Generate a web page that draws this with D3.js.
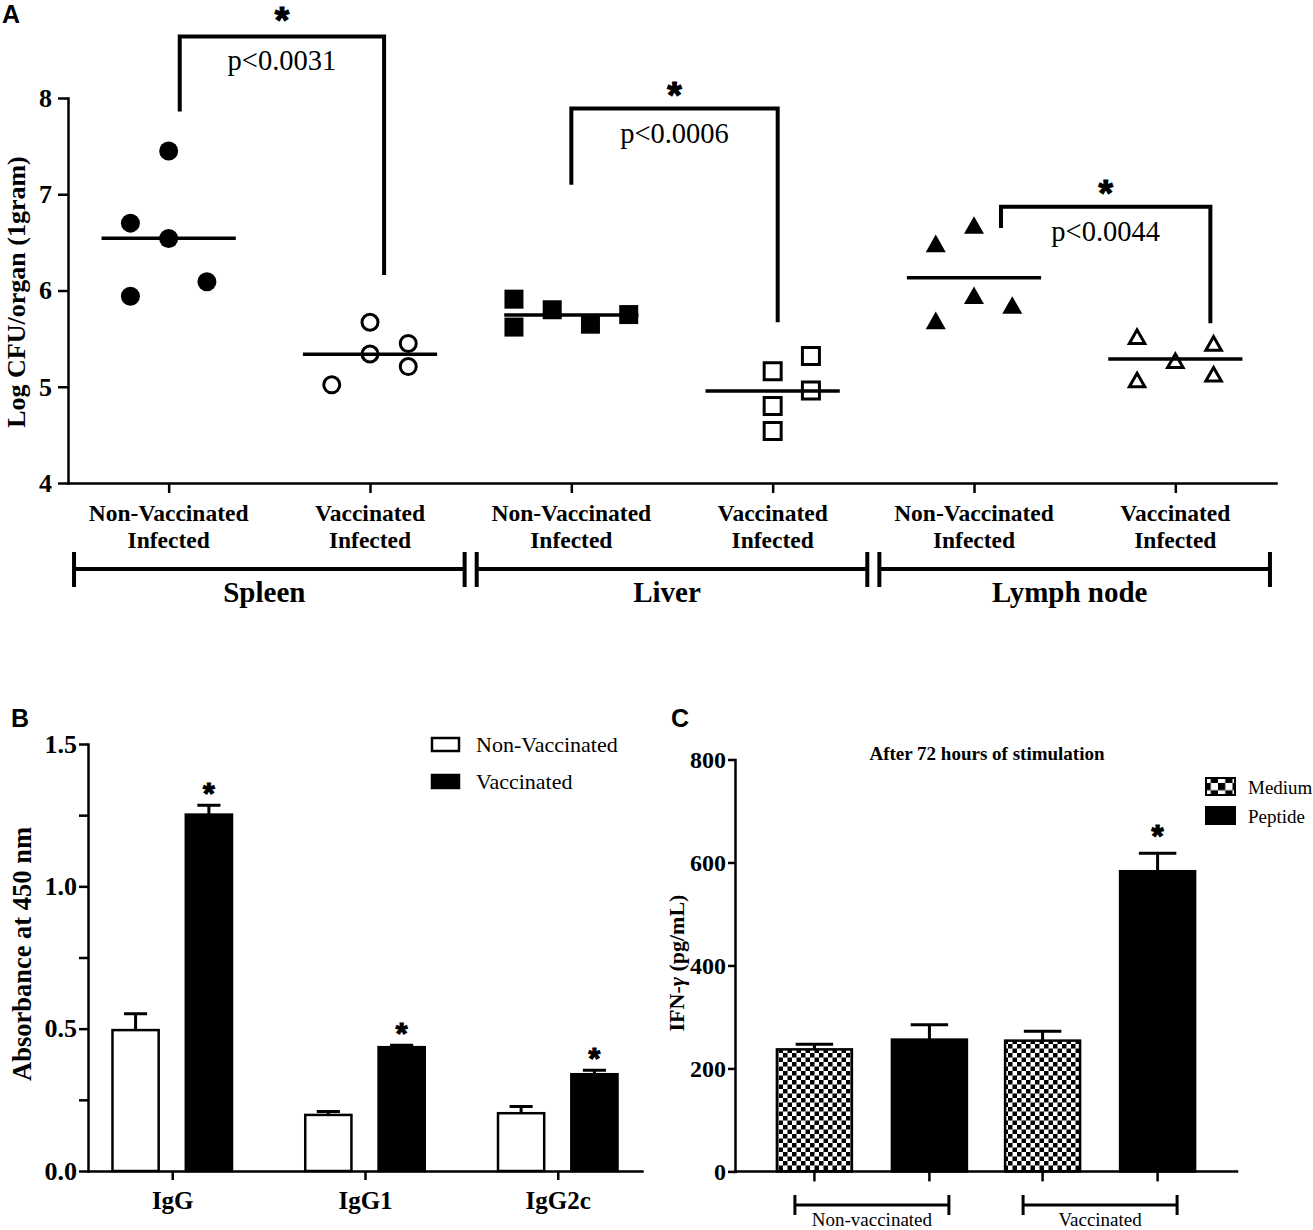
<!DOCTYPE html>
<html>
<head>
<meta charset="utf-8">
<script src="https://cdn.jsdelivr.net/npm/d3@7"></script>
<style>
  body { margin: 0; background: #fff; }
  svg { display: block; }
</style>
</head>
<body>
<div id="chart"></div>
<script>
// ---------- Panel A: log CFU per organ ----------
const organs = ["Spleen", "Liver", "Lymph node"];
const groupsA = ["spleenNV", "spleenV", "liverNV", "liverV", "lymphNV", "lymphV"];
const groupLabelsA = [
  ["Non-Vaccinated", "Infected"], ["Vaccinated", "Infected"],
  ["Non-Vaccinated", "Infected"], ["Vaccinated", "Infected"],
  ["Non-Vaccinated", "Infected"], ["Vaccinated", "Infected"]
];
const spleenNV = [7.45, 6.70, 6.54, 6.09, 5.94];
const spleenV  = [5.67, 5.34, 5.45, 5.21, 5.02];
const liverNV  = [5.91, 5.62, 5.80, 5.65, 5.75];
const liverV   = [5.16, 5.32, 4.96, 4.80, 4.54];
const lymphNV  = [6.68, 6.49, 5.95, 5.85, 5.69];
const lymphV   = [5.52, 5.45, 5.27, 5.07, 5.13];
// scatter column of each point (GraphPad spreads close values sideways)
const spleenNVSlot = [0, -1, 0, 1, -1];
const spleenVSlot  = [0, 0, 1, 1, -1];
const liverNVSlot  = [-1.5, -1.5, -0.5, 0.5, 1.5];
const liverVSlot   = [0, 1, 1, 0, 0];
const lymphNVSlot  = [0, -1, 0, 1, -1];
const lymphVSlot   = [-1, 1, 0, -1, 1];
const ticksA = [4, 5, 6, 7, 8];
const pLabels = ["p<0.0031", "p<0.0006", "p<0.0044"];
const bracketTop = [8.64, 7.89, 6.87];
const bracketLeftEnd = [7.86, 7.10, 6.65];
const bracketRightEnd = [6.16, 5.67, 5.66];

// ---------- Panel B: antibody ELISA ----------
const antibodies = ["IgG", "IgG1", "IgG2c"];
const absSeries = ["Non-Vaccinated", "Vaccinated"];
const absNonVac = [0.495, 0.197, 0.203];
const absNonVacErr = [0.057, 0.012, 0.024];
const absVac = [1.252, 0.435, 0.340];
const absVacErr = [0.033, 0.007, 0.014];
const ticksB = [0, 0.25, 0.5, 0.75, 1, 1.25, 1.5];

// ---------- Panel C: IFN-gamma ----------
const stimGroups = ["Non-vaccinated", "Vaccinated"];
const stimConditions = ["Medium", "Peptide"];
const ifnMedium = [237, 254];
const ifnMediumErr = [10, 18];
const ifnPeptide = [256, 583];
const ifnPeptideErr = [29, 35];
const ticksC = [0, 200, 400, 600, 800];

const serif = '"Liberation Serif", "Times New Roman", serif';
const sans = '"Liberation Sans", Arial, sans-serif';

var svg = d3.select("#chart").append("svg").attr("width", 1313).attr("height", 1230);

// checkerboard fills: fine one for bars, coarser one for the legend swatch
var defs = svg.append("defs");
function checker(id, cell) {
    var p = defs.append("pattern").attr("id", id)
        .attr("patternUnits", "userSpaceOnUse").attr("width", 2 * cell).attr("height", 2 * cell);
    p.append("rect").attr("width", 2 * cell).attr("height", 2 * cell).attr("fill", "#fff");
    p.append("rect").attr("width", cell).attr("height", cell).attr("fill", "#000");
    p.append("rect").attr("x", cell).attr("y", cell).attr("width", cell).attr("height", cell).attr("fill", "#000");
}
checker("checker", 4.5);
checker("checkerBig", 7.25);

function styleAxis(g, fs) {
    g.select(".domain").attr("stroke-width", 2.5).attr("stroke-linecap", "square");
    g.selectAll(".tick line").attr("stroke-width", 2.5);
    g.selectAll(".tick text")
        .attr("font-family", serif).attr("font-weight", "bold")
        .attr("font-size", fs).attr("fill", "#000");
}

// star drawn as text, centred on (x, y); a thin stroke thickens the glyph
function star(g, x, y, fs) {
    g.append("text").text("*")
        .attr("x", x).attr("y", y + 0.56 * fs)
        .attr("text-anchor", "middle")
        .attr("font-family", sans).attr("font-weight", "bold").attr("font-size", fs)
        .attr("stroke", "#000").attr("stroke-width", 1.2);
}

function panelLetter(txt, x, y) {
    svg.append("text").text(txt).attr("x", x).attr("y", y)
        .attr("font-family", sans).attr("font-weight", "bold").attr("font-size", 25);
}

// ================= Panel A =================
var gA = svg.append("g");
var xA = d3.scalePoint(groupsA, [68, 1276]).padding(0.5);
var yA = d3.scaleLinear([4, 8], [483, 98]);
var stepA = xA.step();
var slotW = stepA * 0.19;

gA.append("g").attr("transform", "translate(68,0)")
    .call(d3.axisLeft(yA).tickValues(ticksA).tickSize(10).tickSizeOuter(0).tickPadding(6).tickFormat(d3.format("d")))
    .call(styleAxis, 26);

gA.append("g").attr("transform", "translate(0,483)")
    .call(d3.axisBottom(xA).tickSize(10).tickSizeOuter(0).tickFormat(""))
    .call(styleAxis, 20);

// two-line category labels
var catText = gA.selectAll("text.cat").data(groupsA).join("text")
    .attr("class", "cat")
    .attr("text-anchor", "middle")
    .attr("font-family", serif).attr("font-weight", "bold").attr("font-size", 23.5);
catText.append("tspan").attr("x", d => xA(d)).attr("y", 521).text((d, i) => groupLabelsA[i][0]);
catText.append("tspan").attr("x", d => xA(d)).attr("y", 548).text((d, i) => groupLabelsA[i][1]);

// organ brackets under the axis
organs.forEach((o, i) => {
    var x1 = xA(groupsA[2 * i]) - 0.47 * stepA;
    var x2 = xA(groupsA[2 * i + 1]) + 0.47 * stepA;
    gA.append("path")
        .attr("d", `M${x1},552V587M${x1},569H${x2}M${x2},552V587`)
        .attr("stroke", "#000").attr("stroke-width", 4).attr("fill", "none");
    gA.append("text").text(o)
        .attr("x", (x1 + x2) / 2 - 5).attr("y", 602)
        .attr("text-anchor", "middle")
        .attr("font-family", serif).attr("font-weight", "bold").attr("font-size", 29);
});

// scatter symbols
var triangle = {
    draw(ctx, size) {
        var w = Math.sqrt(size), h = w * 0.88;
        ctx.moveTo(0, -h / 2);
        ctx.lineTo(w / 2, h / 2);
        ctx.lineTo(-w / 2, h / 2);
        ctx.closePath();
    }
};
function symbolFor(shape, filled) {
    if (shape === "circle") return d3.symbol(d3.symbolCircle, Math.PI * Math.pow(filled ? 9.5 : 8, 2))();
    if (shape === "square") return d3.symbol(d3.symbolSquare, Math.pow(filled ? 19 : 17, 2))();
    return d3.symbol(triangle, Math.pow(filled ? 20 : 15.5, 2))();
}

var seriesA = [
    { values: spleenNV, slots: spleenNVSlot, shape: "circle", filled: true },
    { values: spleenV, slots: spleenVSlot, shape: "circle", filled: false },
    { values: liverNV, slots: liverNVSlot, shape: "square", filled: true },
    { values: liverV, slots: liverVSlot, shape: "square", filled: false },
    { values: lymphNV, slots: lymphNVSlot, shape: "triangle", filled: true },
    { values: lymphV, slots: lymphVSlot, shape: "triangle", filled: false }
];

seriesA.forEach((s, i) => {
    var cx = xA(groupsA[i]);
    gA.append("g").selectAll("path").data(s.values).join("path")
        .attr("transform", (d, j) => `translate(${cx + s.slots[j] * slotW},${yA(d)})`)
        .attr("d", symbolFor(s.shape, s.filled))
        .attr("fill", s.filled ? "#000" : "#fff")
        .attr("stroke", s.filled ? "none" : "#000")
        .attr("stroke-width", 3);
    var m = d3.mean(s.values);
    gA.append("line")
        .attr("x1", cx - stepA / 3).attr("x2", cx + stepA / 3)
        .attr("y1", yA(m)).attr("y2", yA(m))
        .attr("stroke", "#000").attr("stroke-width", 3.5);
});

// significance brackets
var bracketOffset = [[0.055, 0.07], [0, 0.025], [0.134, 0.174]];
pLabels.forEach((p, i) => {
    var xl = xA(groupsA[2 * i]) + bracketOffset[i][0] * stepA;
    var xr = xA(groupsA[2 * i + 1]) + bracketOffset[i][1] * stepA;
    var yt = yA(bracketTop[i]);
    gA.append("path")
        .attr("d", `M${xl},${yA(bracketLeftEnd[i])}V${yt}H${xr}V${yA(bracketRightEnd[i])}`)
        .attr("stroke", "#000").attr("stroke-width", 4).attr("fill", "none");
    gA.append("text").text(p)
        .attr("x", (xl + xr) / 2).attr("y", yt + 34)
        .attr("text-anchor", "middle")
        .attr("font-family", serif).attr("font-size", 28.5);
    star(gA, (xl + xr) / 2, yt - (i === 0 ? 24 : 21), 37);
});

gA.append("text").text("Log CFU/organ (1gram)")
    .attr("transform", "translate(16,292) rotate(-90)")
    .attr("text-anchor", "middle").attr("dominant-baseline", "central")
    .attr("font-family", serif).attr("font-weight", "bold").attr("font-size", 26);

panelLetter("A", 2, 23);

// ================= Panel B =================
var gB = svg.append("g");
var xB = d3.scalePoint(antibodies, [88, 642]).padding(0.437);
var stepB = xB.step();
var innerB = d3.scaleBand(absSeries, [-0.31 * stepB, 0.31 * stepB]).paddingInner(0.37);
var yB = d3.scaleLinear([0, 1.5], [1171, 744]);

var barsB = [
    { key: "Non-Vaccinated", vals: absNonVac, errs: absNonVacErr, fill: "#fff", sig: false },
    { key: "Vaccinated", vals: absVac, errs: absVacErr, fill: "#000", sig: true }
];

barsB.forEach(s => {
    antibodies.forEach((a, i) => {
        var bx = xB(a) + innerB(s.key);
        var bw = innerB.bandwidth();
        var top = yB(s.vals[i]);
        var et = yB(s.vals[i] + s.errs[i]);
        gB.append("path")
            .attr("d", `M${bx + bw / 2},${top}V${et}M${bx + bw / 4},${et}H${bx + 3 * bw / 4}`)
            .attr("stroke", "#000").attr("stroke-width", 3).attr("fill", "none");
        gB.append("rect")
            .attr("x", bx).attr("y", top)
            .attr("width", bw).attr("height", yB(0) - top)
            .attr("fill", s.fill).attr("stroke", "#000").attr("stroke-width", 2.5);
        if (s.sig) star(gB, bx + bw / 2, et - 19, 30);
    });
});

gB.append("g").attr("transform", "translate(88,0)")
    .call(d3.axisLeft(yB).tickValues(ticksB).tickSize(9).tickSizeOuter(0).tickPadding(2)
        .tickFormat(d => (d * 2) % 1 === 0 ? d3.format(".1f")(d) : ""))
    .call(styleAxis, 26);

gB.append("g").attr("transform", "translate(0,1171)")
    .call(d3.axisBottom(xB).tickSize(9).tickSizeOuter(0).tickPadding(11))
    .call(styleAxis, 25);

gB.append("text").text("Absorbance at 450 nm")
    .attr("transform", "translate(22,954) rotate(-90)")
    .attr("text-anchor", "middle").attr("dominant-baseline", "central")
    .attr("font-family", serif).attr("font-weight", "bold").attr("font-size", 26.5);

// legend B
barsB.forEach((s, i) => {
    gB.append("rect")
        .attr("x", 432).attr("y", 738 + i * 37).attr("width", 27).attr("height", 13)
        .attr("fill", s.fill).attr("stroke", "#000").attr("stroke-width", 2.5);
    gB.append("text").text(s.key)
        .attr("x", 476).attr("y", 752 + i * 37)
        .attr("font-family", serif).attr("font-size", 22);
});

panelLetter("B", 11, 727);

// ================= Panel C =================
var gC = svg.append("g");
var xC = d3.scalePoint(stimGroups, [735, 1237]).padding(0.6);
var innerC = d3.scaleBand(stimConditions, [-95, 95]).paddingInner(0.348);
var yC = d3.scaleLinear([0, 800], [1171.4, 759.5]);

var barsC = [
    { key: "Medium", vals: ifnMedium, errs: ifnMediumErr, fill: "url(#checker)", swatch: "url(#checkerBig)", sig: [false, false] },
    { key: "Peptide", vals: ifnPeptide, errs: ifnPeptideErr, fill: "#000", swatch: "#000", sig: [false, true] }
];

barsC.forEach(s => {
    stimGroups.forEach((g, i) => {
        var bx = xC(g) + innerC(s.key);
        var bw = innerC.bandwidth();
        var top = yC(s.vals[i]);
        var et = yC(s.vals[i] + s.errs[i]);
        gC.append("path")
            .attr("d", `M${bx + bw / 2},${top}V${et}M${bx + bw / 4},${et}H${bx + 3 * bw / 4}`)
            .attr("stroke", "#000").attr("stroke-width", 3).attr("fill", "none");
        gC.append("rect")
            .attr("x", bx).attr("y", top)
            .attr("width", bw).attr("height", yC(0) - top)
            .attr("fill", s.fill).attr("stroke", "#000").attr("stroke-width", 2.5);
        // x tick under each bar
        gC.append("line")
            .attr("x1", bx + bw / 2).attr("x2", bx + bw / 2)
            .attr("y1", yC(0)).attr("y2", yC(0) + 10)
            .attr("stroke", "#000").attr("stroke-width", 2.5);
        if (s.sig[i]) star(gC, bx + bw / 2, et - 24, 31);
    });
});

gC.append("line")
    .attr("x1", 735).attr("x2", 1237).attr("y1", yC(0)).attr("y2", yC(0))
    .attr("stroke", "#000").attr("stroke-width", 2.5).attr("stroke-linecap", "square");

gC.append("g").attr("transform", "translate(735,0)")
    .call(d3.axisLeft(yC).tickValues(ticksC).tickSize(7).tickSizeOuter(0).tickPadding(2))
    .call(styleAxis, 24);

// group brackets under C
stimGroups.forEach(g => {
    var x1 = xC(g) - 77, x2 = xC(g) + 77;
    gC.append("path")
        .attr("d", `M${x1},1195V1215M${x1},1205H${x2}M${x2},1195V1215`)
        .attr("stroke", "#000").attr("stroke-width", 3).attr("fill", "none");
    gC.append("text").text(g)
        .attr("x", xC(g)).attr("y", 1226)
        .attr("text-anchor", "middle")
        .attr("font-family", serif).attr("font-size", 19);
});

gC.append("text").text("After 72 hours of stimulation")
    .attr("x", 987).attr("y", 760).attr("text-anchor", "middle")
    .attr("font-family", serif).attr("font-weight", "bold").attr("font-size", 19);

var yTitleC = gC.append("text")
    .attr("transform", "translate(676,963) rotate(-90)")
    .attr("text-anchor", "middle").attr("dominant-baseline", "central")
    .attr("font-family", serif).attr("font-weight", "bold").attr("font-size", 22);
yTitleC.append("tspan").text("IFN-");
yTitleC.append("tspan").attr("font-style", "italic").text("γ");
yTitleC.append("tspan").text(" (pg/mL)");

// legend C
barsC.forEach((s, i) => {
    gC.append("rect")
        .attr("x", 1206).attr("y", 778 + i * 29).attr("width", 29).attr("height", 17)
        .attr("fill", s.swatch).attr("stroke", "#000").attr("stroke-width", 2);
    gC.append("text").text(s.key)
        .attr("x", 1248).attr("y", 794 + i * 29)
        .attr("font-family", serif).attr("font-size", 19);
});

panelLetter("C", 671, 727);
</script>
</body>
</html>
